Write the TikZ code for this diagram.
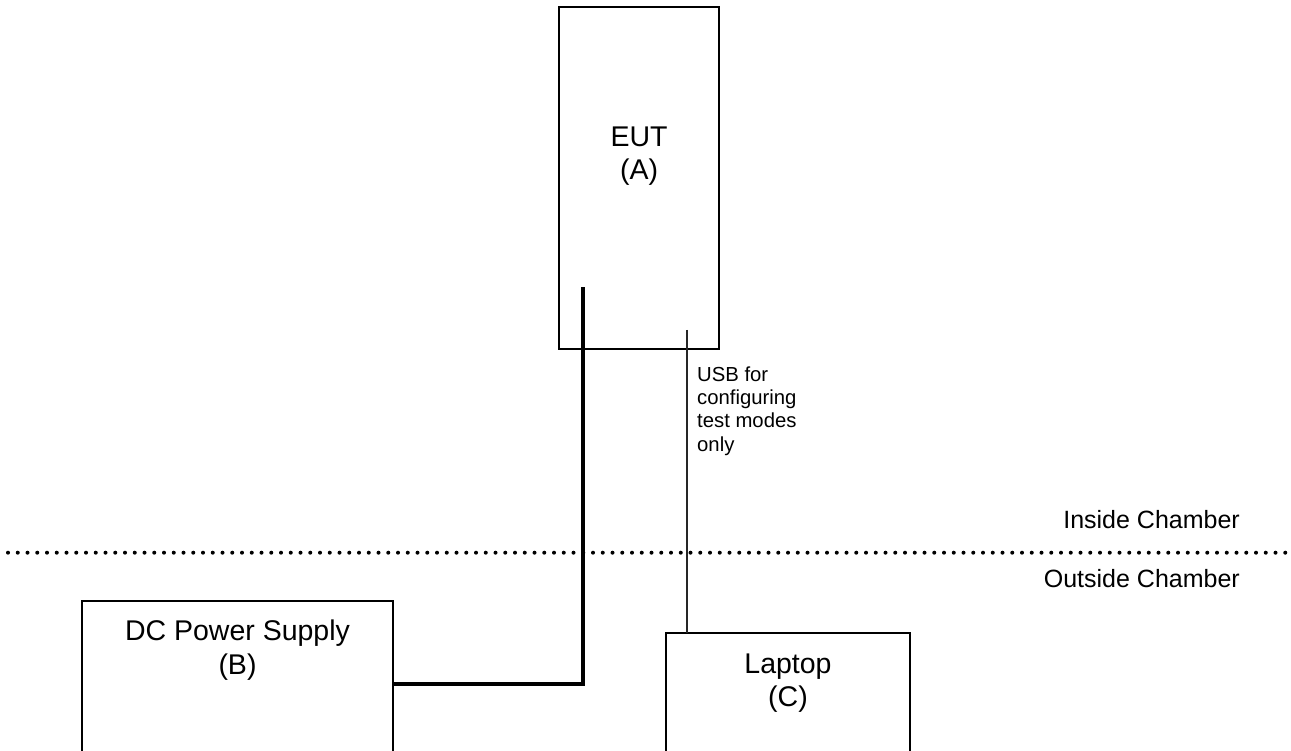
\documentclass[tikz,border=0pt]{standalone}
\usepackage{fontspec}
\setmainfont{Liberation Sans}
\begin{document}
\begin{tikzpicture}[x=1pt,y=-1pt,
  box/.style={draw=black,line width=2pt,inner sep=0pt,outer sep=0pt},
  boxtext/.style={align=center,inner sep=0pt,font=\fontsize{28.5}{33.5}\selectfont},
  chtext/.style={inner sep=0pt,font=\fontsize{25}{30}\selectfont},
  smalltext/.style={align=left,inner sep=0pt,font=\fontsize{20.3}{23.4}\selectfont},
  power/.style={draw=black,line width=3.3pt},
  usb/.style={draw=black!85,line width=1.6pt},
  dotline/.style={draw=black,line width=4pt,line cap=round,dash pattern=on 0pt off 9.75pt}]
\clip (0,0) rectangle (1291,751);
\fill[white] (0,0) rectangle (1291,751);
% boxes
\node[box,minimum width=160pt,minimum height=342pt] (eut) at (639,178) {};
\node[box,minimum width=311pt,minimum height=200pt] (dc) at (237.5,701) {};
\node[box,minimum width=244pt,minimum height=180pt] (lap) at (788,723) {};
% texts
\node[boxtext] (euttxt) at (639,156) {EUT\\(A)};
\node[boxtext] (dctxt) at (237.5,650) {DC Power Supply\\(B)};
\node[boxtext] (laptxt) at (788,683) {Laptop\\(C)};
\node[smalltext,anchor=west] (usbtxt) at (697,411) {USB for\\configuring\\test modes\\only};
\node[chtext,anchor=base east] (inside) at (1240,528) {Inside Chamber};
\node[chtext,anchor=base east] (outside) at (1240,587) {Outside Chamber};
% dotted boundary
\coordinate (dl) at (8,552.7);
\coordinate (dr) at (1291,552.7);
\draw[dotline] (dl) -- (dr);
% power cable
\coordinate (pwrtop) at (583,287);
\coordinate (pwrcorner) at (583,684);
\draw[power] (pwrcorner -| dc.east) -- (pwrcorner) -- (pwrtop);
% usb cable
\coordinate (usbtop) at (687,330);
\draw[usb] (usbtop) -- (usbtop |- lap.north);
\end{tikzpicture}
\end{document}
